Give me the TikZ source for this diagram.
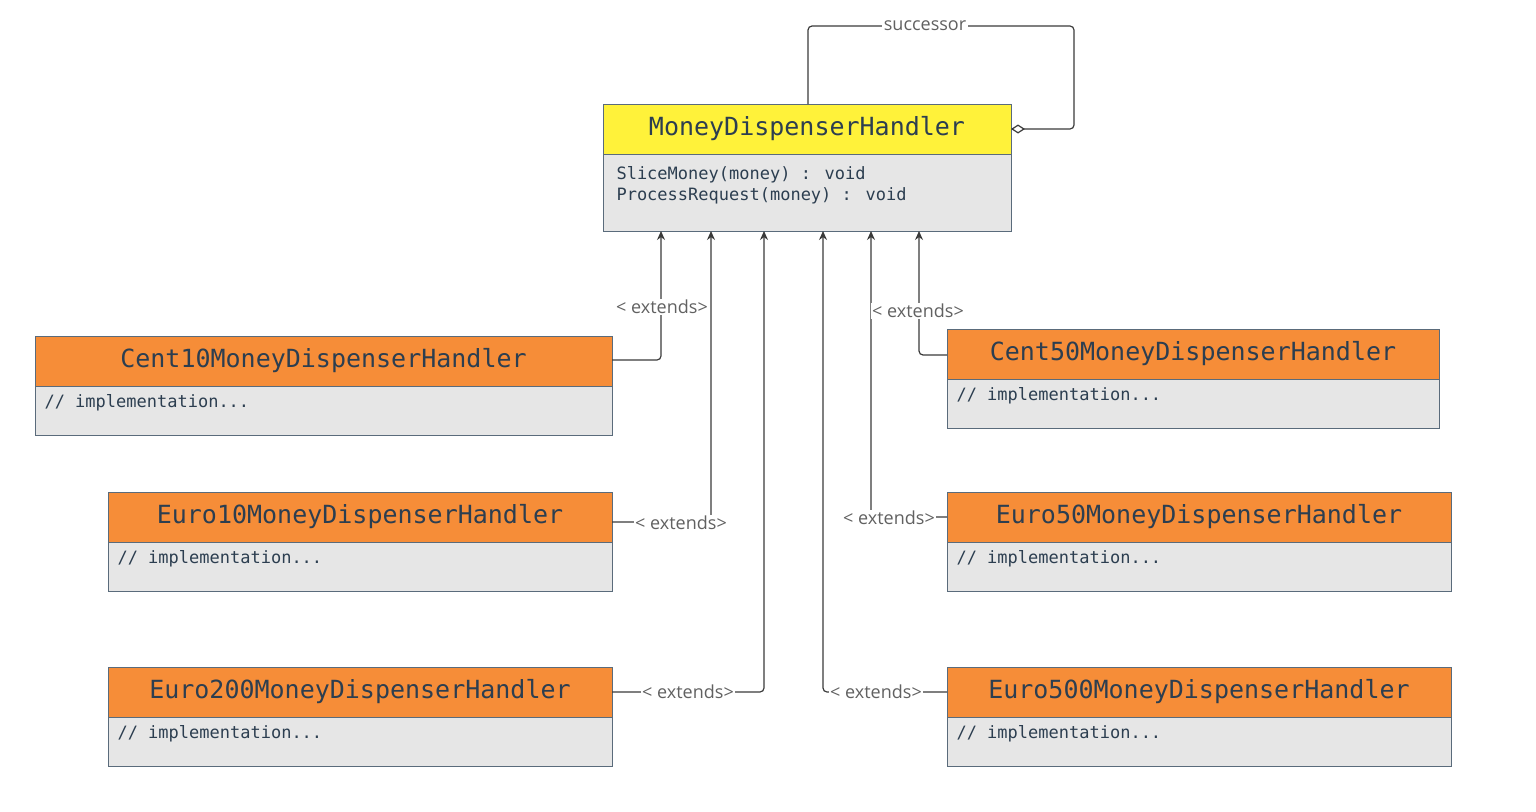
\documentclass[tikz,border=0pt]{standalone}
\usepackage{fontspec}
\setmainfont{Open Sans}
\newfontfamily\monof{DejaVu Sans Mono}
\usetikzlibrary{arrows.meta}
\definecolor{hdr}{HTML}{F68D38}
\definecolor{yel}{HTML}{FFF23A}
\definecolor{bod}{HTML}{E6E6E6}
\definecolor{brd}{HTML}{5A6B7B}
\definecolor{txt}{HTML}{2C3E50}
\definecolor{lnk}{HTML}{3A3A3A}
\begin{document}
\begin{tikzpicture}[x=1pt,y=-1pt,
  box/.style={draw=brd,line width=0.8pt},
  htext/.style={font=\monof\fontsize{25}{25}\selectfont,text=txt},
  btext/.style={font=\monof\fontsize{17}{21}\selectfont,text=txt,anchor=west,align=left},
  lab/.style={font=\fontsize{18}{18}\selectfont,text=lnk!80,fill=white,inner sep=1.5pt},
  link/.style={draw=lnk,line width=1.2pt,rounded corners=4pt},
  ext/.style={link,-{Stealth[length=9pt,width=8pt]}}]
\useasboundingbox (0,0) rectangle (1536,811);
% top class
\filldraw[box,fill=yel] (603,104) rectangle (1011,154);
\filldraw[box,fill=bod] (603,154) rectangle (1011,231);
\node[htext] (top) at (807,129) {MoneyDispenserHandler};
\node[btext] (topb) at (613,185) {SliceMoney(money) : void\\ProcessRequest(money) : void};
\coordinate (tl) at (808,104);
\coordinate (tr) at (1011,129);
\draw[link,-{Diamond[open,length=14pt,width=9pt]}] (tl) -- (808,26) -- (1074,26) -- (1074,129) -- (tr);
\node[lab] (succ) at (925,26) {successor};
% subclasses
\newcommand{\cls}[6]{%
 \filldraw[box,fill=hdr] (#1,#3) rectangle (#2,#4);
 \filldraw[box,fill=bod] (#1,#4) rectangle (#2,#4+49);
 \node[htext] (#6) at ({(#1+#2)/2},{(#3+#4)/2}) {#5};
 \node[btext] at (#1+6,#4+17) {// implementation...};}
\cls{35}{612}{336}{386}{Cent10MoneyDispenserHandler}{c10}
\cls{108}{612}{492}{542}{Euro10MoneyDispenserHandler}{e10}
\cls{108}{612}{667}{717}{Euro200MoneyDispenserHandler}{e200}
\cls{947}{1439}{329}{379}{Cent50MoneyDispenserHandler}{c50}
\cls{947}{1451}{492}{542}{Euro50MoneyDispenserHandler}{e50}
\cls{947}{1451}{667}{717}{Euro500MoneyDispenserHandler}{e500}
% connectors
\coordinate (a1) at (612,360); \coordinate (t1) at (661,231);
\coordinate (a2) at (612,522); \coordinate (t2) at (711,231);
\coordinate (a3) at (612,692); \coordinate (t3) at (764,231);
\coordinate (a4) at (947,692); \coordinate (t4) at (823,231);
\coordinate (a5) at (947,517); \coordinate (t5) at (871,231);
\coordinate (a6) at (947,355); \coordinate (t6) at (919,231);
\draw[ext] (a1) -- (661,360) -- (t1);
\draw[ext] (a2) -- (711,522) -- (t2);
\draw[ext] (a3) -- (764,692) -- (t3);
\draw[ext] (a4) -- (823,692) -- (t4);
\draw[ext] (a5) -- (871,517) -- (t5);
\draw[ext] (a6) -- (919,355) -- (t6);
\node[lab] (l1) at (662,307) {< extends>};
\node[lab] (l2) at (681,523) {< extends>};
\node[lab] (l3) at (688,692) {< extends>};
\node[lab] (l4) at (876,692) {< extends>};
\node[lab] (l5) at (889,518) {< extends>};
\node[lab] (l6) at (918,311) {< extends>};
\end{tikzpicture}
\end{document}
